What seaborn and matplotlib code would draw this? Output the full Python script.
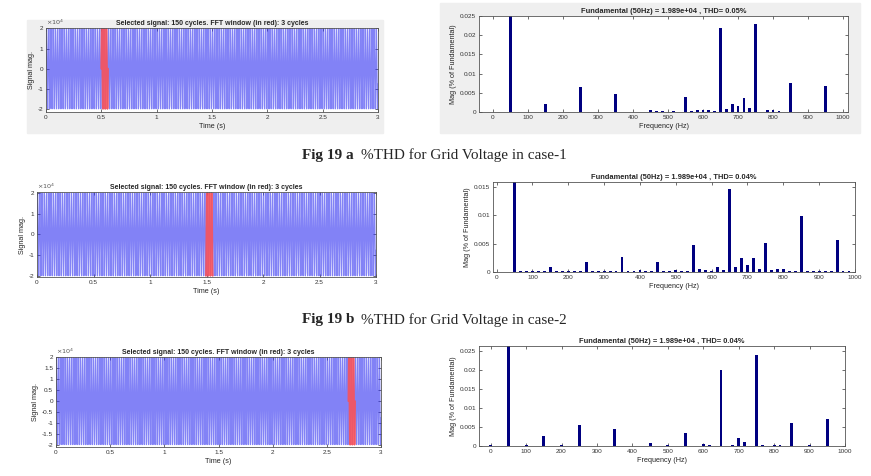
import numpy as np
import matplotlib
matplotlib.use("Agg")
import matplotlib.pyplot as plt
from matplotlib.patches import Rectangle
from matplotlib.ticker import FuncFormatter
import seaborn as sns

sns.set_theme(style="white")
plt.rcParams["font.family"] = ["Liberation Sans", "DejaVu Sans"]
plt.rcParams["axes.unicode_minus"] = False

# --- data ---
# one 50 Hz cycle of the grid voltage (16 samples), repeated for 150 cycles
cycle_samples = [0, 7650, 14140, 18480, 19890, 18480, 14140, 7650,
                 0, -7650, -14140, -18480, -19890, -18480, -14140, -7650]
n_cycles = 150
f_grid = 50
fft_start = [0.50, 1.495, 2.70]   # start of the red FFT window (s), per case
fft_len = 0.06                    # 3 cycles

# FFT bins every 50/3 Hz, k = 0..59 ; bin 3 = fundamental (100 %)
case1_mag = [0, 0, 0, 100, 0, 0, 0, 0, 0, 0.0021,
             0, 0, 0, 0, 0, 0.0066, 0, 0, 0, 0,
             0, 0.0047, 0, 0, 0, 0, 0, 0.0006, 0.0002, 0.0002,
             0, 0.0003, 0.0001, 0.0038, 0.0003, 0.0006, 0.0006, 0.0005, 0.0003, 0.0218,
             0.0009, 0.0020, 0.0015, 0.0037, 0.0010, 0.0228, 0.0001, 0.0006, 0.0006, 0.0003,
             0.0001, 0.0076, 0, 0, 0, 0, 0, 0.0069, 0.0001, 0]
case2_mag = [0, 0, 0, 100, 0.0001, 0.0001, 0.0001, 0.0001, 0.0001, 0.0009,
             0.0001, 0.0001, 0.0001, 0.0001, 0.0001, 0.0018, 0.0002, 0.0002, 0.0002, 0.0002,
             0.0002, 0.0026, 0.0001, 0.0002, 0.0003, 0.0002, 0.0002, 0.0018, 0.0002, 0.0002,
             0.0003, 0.0002, 0.0002, 0.0048, 0.0005, 0.0004, 0.0002, 0.0009, 0.0004, 0.0146,
             0.0009, 0.0024, 0.0013, 0.0024, 0.0006, 0.0051, 0.0004, 0.0006, 0.0005, 0.0002,
             0.0002, 0.0099, 0.0001, 0.0002, 0.0002, 0.0002, 0.0002, 0.0057, 0.0001, 0.0002]
case3_mag = [0.0003, 0, 0, 100, 0, 0, 0.0003, 0, 0, 0.0026,
             0, 0, 0.0003, 0, 0, 0.0054, 0, 0, 0, 0,
             0, 0.0045, 0, 0, 0, 0, 0, 0.0007, 0, 0,
             0.0003, 0, 0, 0.0033, 0, 0, 0.0005, 0.0003, 0, 0.0198,
             0, 0.0003, 0.0022, 0.0010, 0, 0.0239, 0.0002, 0, 0.0002, 0.0002,
             0, 0.0060, 0, 0, 0.0002, 0, 0, 0.0071, 0, 0]
fft_mags = [case1_mag, case2_mag, case3_mag]

time_ticks = [0, 0.5, 1, 1.5, 2, 2.5, 3]
time_ticklabels = ["0", "0.5", "1", "1.5", "2", "2.5", "3"]
time_yticks = [[-2e4, -1e4, 0, 1e4, 2e4],
               [-2e4, -1e4, 0, 1e4, 2e4],
               [-2e4, -1.5e4, -1e4, -0.5e4, 0, 0.5e4, 1e4, 1.5e4, 2e4]]
time_ylims = [(-2.15e4, 2.02e4), (-2.05e4, 2.04e4), (-2.1e4, 2.02e4)]
fft_yticks = [[0, 0.005, 0.01, 0.015, 0.02, 0.025],
              [0, 0.005, 0.01, 0.015],
              [0, 0.005, 0.01, 0.015, 0.02, 0.025]]
fft_ylims = [(0, 0.025), (0, 0.0159), (0, 0.0262)]
fft_xlims = [(-40, 1014), (-10, 998), (-33, 1000)]
fft_titles = ["Fundamental (50Hz) = 1.989e+04 , THD= 0.05%",
              "Fundamental (50Hz) = 1.989e+04 , THD= 0.04%",
              "Fundamental (50Hz) = 1.989e+04 , THD= 0.04%"]
time_title = "Selected signal: 150 cycles. FFT window (in red): 3 cycles"
captions = [("Fig 19 a", "%THD for Grid Voltage in case-1"),
            ("Fig 19 b", "%THD for Grid Voltage in case-2")]

# --- derived series ---
signal = np.tile(cycle_samples, n_cycles)
t = np.arange(len(signal)) / (f_grid * len(cycle_samples))
freqs = np.arange(60) * f_grid / 3

W, H = 871, 476
fig = plt.figure(figsize=(W / 100, H / 100), dpi=100)


def box(l, r, top, b):
    return [l / W, 1 - b / H, (r - l) / W, (b - top) / H]


# MATLAB grey figure backgrounds on the first row
for (l, r, top, b) in [(27, 383, 20, 133), (440, 860, 3, 133)]:
    fig.patches.append(Rectangle((l / W, 1 - b / H), (r - l) / W, (b - top) / H,
                                 transform=fig.transFigure, color="#efefef",
                                 zorder=-10))

time_boxes = [box(46, 378, 28, 112), box(37, 376, 192, 277), box(56, 381, 357, 447)]
fft_boxes = [box(479, 848, 16, 112), box(493, 855, 182, 272), box(479, 845, 346, 446)]

fs_tick = 4.6
fs_lab = 5.2
fs_title = 5.0


def style_axes(ax):
    ax.set_facecolor("white")
    for s in ax.spines.values():
        s.set_color("#555555")
        s.set_linewidth(0.6)
    ax.tick_params(direction="in", top=True, right=True, length=2, width=0.5,
                   labelsize=fs_tick, colors="#333333", pad=2,
                   bottom=True, left=True)


for i in range(3):
    # time-domain panel
    ax = fig.add_axes(time_boxes[i])
    sns.lineplot(x=t, y=signal, ax=ax, color="#2f2ff0", linewidth=0.9,
                 alpha=0.6, estimator=None, sort=False)
    sel = (t >= fft_start[i]) & (t <= fft_start[i] + fft_len)
    sns.lineplot(x=t[sel], y=signal[sel], ax=ax, color="#ff5050", linewidth=1.4,
                 alpha=0.85, estimator=None, sort=False)
    ax.set_xlim(0, 3)
    ax.set_ylim(*time_ylims[i])
    ax.set_xticks(time_ticks)
    ax.set_xticklabels(time_ticklabels)
    ax.set_yticks(time_yticks[i])
    ax.yaxis.set_major_formatter(FuncFormatter(lambda v, p: "%g" % (v / 1e4)))
    ax.text(0.0, 1.015, r"$\times10^4$", transform=ax.transAxes, fontsize=fs_tick,
            color="#555555", ha="left", va="bottom")
    ax.set_title(time_title, fontsize=fs_title, fontweight="bold", pad=2)
    ax.set_xlabel("Time (s)", fontsize=fs_lab, labelpad=2)
    ax.set_ylabel("Signal mag.", fontsize=fs_lab, labelpad=2)
    style_axes(ax)

    # spectrum panel
    ax = fig.add_axes(fft_boxes[i])
    sns.barplot(x=freqs, y=[max(v, 0.00004) for v in fft_mags[i]], ax=ax,
                native_scale=True, width=0.48, color="#000080", saturation=1,
                linewidth=0)
    ax.set_xlim(*fft_xlims[i])
    ax.set_ylim(*fft_ylims[i])
    ax.set_xticks(range(0, 1001, 100))
    ax.set_yticks(fft_yticks[i])
    ax.yaxis.set_major_formatter(FuncFormatter(lambda v, p: "%g" % v))
    ax.set_title(fft_titles[i], fontsize=fs_title + 0.4, fontweight="bold", pad=2)
    ax.set_xlabel("Frequency (Hz)", fontsize=fs_lab, labelpad=2)
    ax.set_ylabel("Mag (% of Fundamental)", fontsize=fs_lab, labelpad=2)
    style_axes(ax)

# figure captions
for (bold, rest), yc in zip(captions, [155, 320]):
    fig.text(302 / W, 1 - yc / H, bold, fontsize=11, fontweight="bold",
             family=["Liberation Serif"], va="center", ha="left")
    fig.text(361 / W, 1 - yc / H, rest, fontsize=11,
             family=["Liberation Serif"], va="center", ha="left")

fig.savefig("out.png", dpi=100)
